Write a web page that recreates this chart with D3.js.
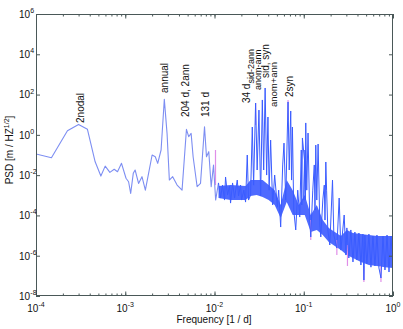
<!DOCTYPE html>
<html><head><meta charset="utf-8">
<script src="https://cdn.jsdelivr.net/npm/d3@7"></script>
<style>body{margin:0;background:#fff}svg{display:block}text{font-family:"Liberation Sans",Arial,Helvetica,sans-serif;fill:#111}</style>
</head><body><svg id="c" width="403" height="329"></svg>
<script>
// low-frequency part of the spectrum (frequency in 1/d, PSD in m/Hz^1/2)
const smoothFreq=[1e-4,1.49e-4,2.25e-4,3.0e-4,3.77e-4,4.6e-4,5.33e-4,5.96e-4,6.73e-4,7.52e-4,8.19e-4,9.08e-4,1.02e-3,1.09e-3,1.15e-3,1.23e-3,1.29e-3,1.41e-3,1.54e-3,1.68e-3,1.81e-3,2.0e-3,2.17e-3,2.31e-3,2.52e-3,2.74e-3,2.94e-3,3.12e-3,3.40e-3,3.81e-3,4.33e-3,4.85e-3,5.14e-3,5.47e-3,5.76e-3,6.39e-3,6.97e-3,7.73e-3,8.13e-3,8.63e-3,9.18e-3,9.75e-3,1.03e-2,1.109e-2];
const smoothPsd=[0.112,0.073,1.6,3.3,1.88,0.046,0.009,0.028,0.0138,0.0195,0.0148,0.0386,0.0070,0.0047,0.00125,0.0123,0.018,0.0039,0.0084,0.0018,0.0101,0.1,0.082,0.0386,0.177,58,1.19,0.0057,0.0084,0.0032,0.0018,1.88,0.81,1.19,0.082,0.00266,0.0039,2.53,0.082,0.146,0.00266,0.032,5.8e-4,0.0041];
// dense high-frequency part (peaks and troughs)
const denseFreq=[0.01109,0.01167,0.01230,0.01295,0.01330,0.01400,0.01475,0.01513,0.01594,0.01678,0.01799,0.01860,0.01959,0.02010,0.02133,0.02229,0.02328,0.02408,0.02536,0.02651,0.02742,0.02888,0.03005,0.03148,0.03289,0.03436,0.03556,0.03693,0.03840,0.03970,0.04093,0.04256,0.04483,0.04721,0.05061,0.05236,0.05515,0.05808,0.06010,0.06281,0.06668,0.06874,0.07145,0.0730,0.07464,0.07723,0.08133,0.08562,0.09017,0.0938,0.0951,0.09663,0.1019,0.1,0.1033,0.1043,0.1053,0.1066,0.1081,0.1117,0.1167,0.1198,0.1262,0.1312,0.1336,0.1364,0.1400,0.1448,0.1514,0.1553,0.1635,0.1698,0.1730,0.1767,0.1803,0.1860,0.1959,0.2100,0.2173,0.2349,0.2493,0.2605,0.2838,0.2964,0.304,0.320,0.337,0.356,0.374,0.394,0.415,0.437,0.460,0.472,0.484,0.510,0.537,0.566,0.596,0.628,0.661,0.696,0.733,0.772,0.813,0.857,0.902,0.950,1.0];
const densePsd=[0.0041,7.3e-4,0.0032,5.8e-4,0.0081,1.03e-3,0.0029,4.1e-4,0.0041,7.3e-4,0.0057,9.2e-4,0.0032,5.8e-4,0.0018,4.6e-4,0.0998,5.8e-4,1.03e-3,2.45,0.0032,38,0.018,17,9.2e-4,54,0.018,212,0.0101,7.7,0.0018,0.55,3.3e-4,0.0101,2.6e-4,0.0018,2.65e-5,0.032,0.39,5.8e-4,43,0.018,15.3,0.0057,2.45,1.86e-4,1.9e-5,0.0018,8.3e-5,0.177,3.3e-4,0.70,0.056,5.8e-4,0.177,5.8e-4,3.9,0.056,0.0018,1.23,5.9e-5,8.5e-6,0.0018,0.032,1.86e-4,0.31,5.8e-4,0.35,3.3e-5,8.5e-6,5.8e-4,0.0032,5.9e-5,0.045,0.0018,1.9e-5,3.4e-6,0.0057,1.06e-5,2.4e-6,7.3e-4,1.9e-6,1.05e-4,1.08e-6,2.4e-5,7.7e-7,1.9e-5,4.9e-7,1.5e-5,6.1e-7,1.34e-5,3.45e-7,1.19e-5,6.2e-8,1.06e-5,3.9e-7,1.19e-5,2.7e-7,9.5e-6,3.1e-7,1.06e-5,2.45e-7,7.8e-8,9.5e-6,1.95e-7,1.06e-5,1.55e-7,9.5e-6,1.95e-7];
// envelope of the dense noise band
const bandFreq=[0.01109,0.01513,0.02229,0.02536,0.02965,0.03459,0.04046,0.04721,0.05515,0.06442,0.07516,0.0879,0.1026,0.1198,0.1400,0.1633,0.191,0.2228,0.2606,0.304,0.356,0.437,0.537,0.661,0.813,1.0];
const bandHigh=[0.0029,0.0032,0.0029,0.0057,0.0057,0.0057,0.0032,0.0018,3.3e-4,0.0057,0.0018,3.3e-4,1.03e-3,1.05e-4,3.3e-4,5.9e-5,2.4e-5,1.5e-5,9.5e-6,1.9e-5,1.34e-5,1.19e-5,1.06e-5,9.5e-6,9.5e-6,9.5e-6];
const bandLow=[7.3e-4,5.8e-4,5.8e-4,9.2e-4,1.03e-3,8.2e-4,5.8e-4,3.3e-4,7.4e-5,4.6e-4,1.05e-4,1.05e-4,1.05e-4,1.5e-5,1.9e-5,1.06e-5,4.8e-6,3.0e-6,1.9e-6,1.08e-6,7.7e-7,4.9e-7,3.45e-7,3.1e-7,2.7e-7,2.45e-7];
// second (pink) series, visible where it departs from the blue one
const pinkFreq=[0.01026,0.02888,0.06668,0.1198,0.2349,0.3088,0.472,0.733];
const pinkHigh=[0.177,38,54,5.9e-5,6.0e-6,3.4e-6,3.1e-7,3.1e-7];
const pinkLow=[0.0032,3.08,5.5,6.0e-6,1.08e-6,3.1e-7,4.9e-8,4.9e-8];
// tick labels
const xTickValues=[1e-4,1e-3,1e-2,1e-1,1];
const xTickExp=["-4","-3","-2","-1","0"];
const yTickValues=[1e-8,1e-6,1e-4,1e-2,1,1e2,1e4,1e6];
const yTickExp=["-8","-6","-4","-2","0","2","4","6"];
// peak annotations
const labelText=["2nodal","annual","204 d, 2ann","131 d","34 d","anom-ann","sid, syn","anom+ann","2syn"];
const labelFreq=[3.16e-4,2.74e-3,4.79e-3,8.0e-3,0.0228,0.0304,0.0374,0.0462,0.0697];
const labelPsd=[3.9,120,7.7,7.7,38,168,664,24,76];
const labelSub=["","","","","sid-2ann","","","",""];
const labelSize=[10,10,10,10,10,9,10,9.5,10];

const m={l:36,r:393,t:14,b:296};
const x=d3.scaleLog().domain([1e-4,1]).range([m.l,m.r]);
const y=d3.scaleLog().domain([1e-8,1e6]).range([m.b,m.t]);
const svg=d3.select("#c");
svg.append("rect").attr("width",403).attr("height",329).attr("fill","#fff");
svg.append("clipPath").attr("id","clip").append("rect").attr("x",m.l).attr("y",m.t).attr("width",m.r-m.l).attr("height",m.b-m.t);
const plot=svg.append("g").attr("clip-path","url(#clip)");

const band=bandFreq.map((f,i)=>({f,hi:bandHigh[i],lo:bandLow[i]}));
plot.append("path").datum(band)
  .attr("d",d3.area().x(d=>x(d.f)).y0(d=>y(d.lo)).y1(d=>y(d.hi)))
  .attr("fill","#3f5dff").attr("opacity",0.92);

plot.selectAll("line.pink").data(pinkFreq.map((f,i)=>({f,hi:pinkHigh[i],lo:pinkLow[i]}))).enter()
  .append("line").attr("class","pink")
  .attr("x1",d=>x(d.f)).attr("x2",d=>x(d.f)).attr("y1",d=>y(d.hi)).attr("y2",d=>y(d.lo))
  .attr("stroke","#e08ee8").attr("stroke-width",1.2);

const line=d3.line().x(d=>x(d[0])).y(d=>y(d[1]));
plot.append("path").datum(smoothFreq.map((f,i)=>[f,smoothPsd[i]]))
  .attr("d",line).attr("fill","none").attr("stroke","#7d8ef2").attr("stroke-width",1.1).attr("stroke-linejoin","round");
plot.append("path").datum(denseFreq.map((f,i)=>[f,densePsd[i]]))
  .attr("d",line).attr("fill","none").attr("stroke","#3a5cff").attr("stroke-width",1).attr("stroke-linejoin","round");

// axes
const axCol="#4a5858";
function style(g){g.select(".domain").remove();g.selectAll("line").attr("stroke",axCol);g.selectAll("text").remove();}
const minor=x.ticks();
svg.append("g").attr("transform",`translate(0,${m.b})`).call(d3.axisBottom(x).tickValues(minor).tickSize(-2.5).tickFormat("")).call(style);
svg.append("g").attr("transform",`translate(0,${m.b})`).call(d3.axisBottom(x).tickValues(xTickValues).tickSize(-4.5).tickFormat("")).call(style);
svg.append("g").attr("transform",`translate(0,${m.t})`).call(d3.axisTop(x).tickValues(minor).tickSize(-2.5).tickFormat("")).call(style);
svg.append("g").attr("transform",`translate(0,${m.t})`).call(d3.axisTop(x).tickValues(xTickValues).tickSize(-4.5).tickFormat("")).call(style);
svg.append("g").attr("transform",`translate(${m.l},0)`).call(d3.axisLeft(y).tickValues(yTickValues).tickSize(-4).tickFormat("")).call(style);
svg.append("g").attr("transform",`translate(${m.r},0)`).call(d3.axisRight(y).tickValues(yTickValues).tickSize(-4).tickFormat("")).call(style);
svg.append("rect").attr("x",m.l+0.5).attr("y",m.t+0.5).attr("width",m.r-m.l-1).attr("height",m.b-m.t-1)
  .attr("fill","none").attr("stroke",axCol).attr("stroke-width",1);

// x tick labels
xTickValues.forEach((v,i)=>{
  const t=svg.append("text").attr("x",x(v)).attr("y",311.5).attr("text-anchor","middle").attr("font-size",10);
  t.append("tspan").text("10");
  t.append("tspan").attr("font-size",7).attr("dy",-4.5).text(xTickExp[i]);
});
// y tick labels
yTickValues.forEach((v,i)=>{
  svg.append("text").attr("x",30).attr("y",y(v)+3.8).attr("text-anchor","end").attr("font-size",10).text("10");
  svg.append("text").attr("x",30.3).attr("y",y(v)-1).attr("font-size",7).text(yTickExp[i]);
});
// axis titles
svg.append("text").attr("x",214).attr("y",323).attr("text-anchor","middle").attr("font-size",10).text("Frequency [1 / d]");
const yt=svg.append("text").attr("transform","translate(12.5,150) rotate(-90)").attr("text-anchor","middle").attr("font-size",10);
yt.append("tspan").text("PSD [m / HZ");
yt.append("tspan").attr("font-size",7).attr("dy",-4).text("1/2");
yt.append("tspan").attr("dy",4).text("]");

// annotations
labelText.forEach((s,i)=>{
  const t=svg.append("text").attr("transform",`translate(${x(labelFreq[i])+3.5},${y(labelPsd[i])}) rotate(-90)`)
    .attr("font-size",labelSize[i]);
  t.append("tspan").text(s);
  if(labelSub[i]) t.append("tspan").attr("font-size",9).attr("dy",4).text(labelSub[i]);
});
</script></body></html>
